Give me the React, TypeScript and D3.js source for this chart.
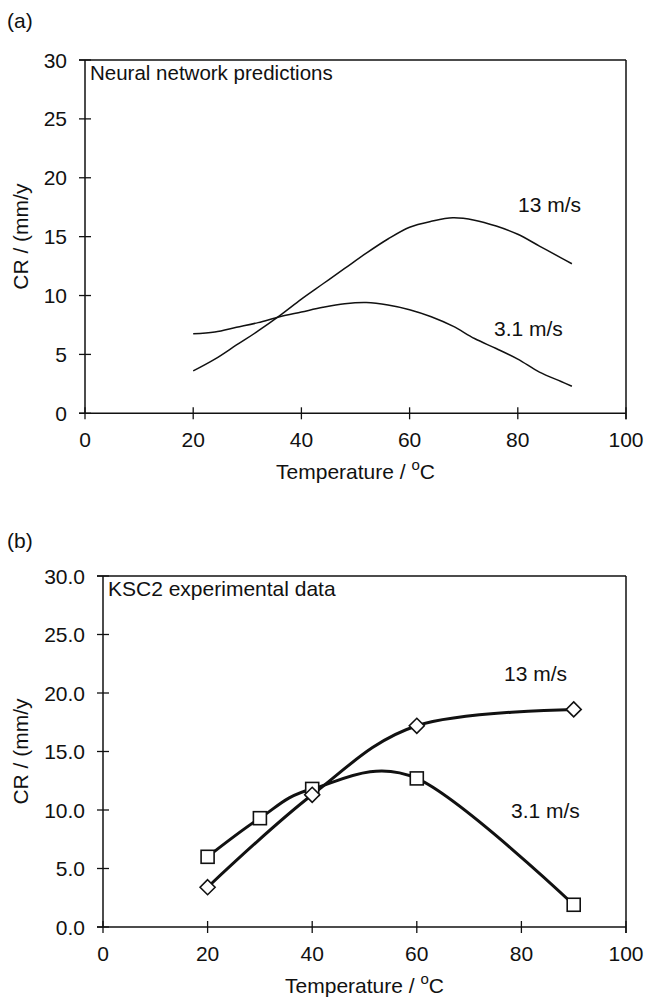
import React from "react";
import * as d3 from "d3";

// ---------- data ----------
const xTicks = [0, 20, 40, 60, 80, 100];
const yTicksA = [0, 5, 10, 15, 20, 25, 30];
const yTicksB = [0, 5, 10, 15, 20, 25, 30];

// (a) neural network predictions
const nnTemp = [20, 24, 28, 32, 36, 40, 44, 48, 52, 56, 60, 64, 68, 72, 76, 80, 84, 88, 90];
const nn13 = [3.6, 4.6, 5.8, 7.0, 8.3, 9.7, 11.0, 12.3, 13.6, 14.8, 15.8, 16.3, 16.6, 16.4, 15.9, 15.2, 14.2, 13.2, 12.7];
const nn31 = [6.75, 6.9, 7.3, 7.7, 8.2, 8.6, 9.0, 9.3, 9.4, 9.2, 8.8, 8.2, 7.4, 6.35, 5.5, 4.6, 3.5, 2.7, 2.3];

// (b) KSC2 experimental data
const expTemp13 = [20, 40, 60, 90];
const exp13 = [3.4, 11.3, 17.2, 18.6];
const expTemp31 = [20, 30, 40, 60, 90];
const exp31 = [6.0, 9.3, 11.8, 12.7, 1.9];

const FONT = "'Liberation Sans', Arial, Helvetica, sans-serif";
const INK = "#111";
const FS = 21;

type Pt = [number, number];

function Panel(props: {
  left: number; right: number; top: number; bottom: number;
  yTicks: number[]; yFmt: (v: number) => string;
  title: string; titleSize: number; tag: string; tagY: number;
  children: (x: d3.ScaleLinear<number, number>, y: d3.ScaleLinear<number, number>) => React.ReactNode;
}) {
  const { left, right, top, bottom, yTicks, yFmt, title, titleSize, tag, tagY } = props;
  const x = d3.scaleLinear().domain([0, 100]).range([left, right]);
  const y = d3.scaleLinear().domain([0, 30]).range([bottom, top]);
  const T = 6;
  return (
    <g fontFamily={FONT} fill={INK}>
      <text x={7} y={tagY} fontSize={FS} dominantBaseline="central">{tag}</text>
      {/* frame */}
      <line x1={left - T} x2={right} y1={top} y2={top} stroke={INK} strokeWidth={1.5} />
      <line x1={right} x2={right} y1={top} y2={bottom + T} stroke={INK} strokeWidth={1.5} />
      <line x1={left} x2={left} y1={top} y2={bottom} stroke={INK} strokeWidth={1.5} />
      <line x1={left - T} x2={right} y1={bottom} y2={bottom} stroke={INK} strokeWidth={1.5} />
      {yTicks.map((t) => (
        <g key={"y" + t}>
          <line x1={left - T} x2={left + T} y1={y(t)} y2={y(t)} stroke={INK} strokeWidth={1.3} />
          <text x={left - 18} y={y(t)} fontSize={FS} textAnchor="end" dominantBaseline="central">{yFmt(t)}</text>
        </g>
      ))}
      {xTicks.map((t) => (
        <g key={"x" + t}>
          <line x1={x(t)} x2={x(t)} y1={bottom - T} y2={bottom + T} stroke={INK} strokeWidth={1.3} />
          <text x={x(t)} y={bottom + 26} fontSize={FS} textAnchor="middle" dominantBaseline="central">{t}</text>
        </g>
      ))}
      <text x={(left + right) / 2} y={bottom + 58} fontSize={FS} textAnchor="middle" dominantBaseline="central">
        Temperature / <tspan fontSize={15} dy={-7}>o</tspan><tspan dy={7}>C</tspan>
      </text>
      <text transform={`translate(20,${(top + bottom) / 2}) rotate(-90)`} fontSize={FS} textAnchor="middle" dominantBaseline="central">
        CR / (mm/y
      </text>
      <text x={left + 5} y={top + 12} fontSize={titleSize} dominantBaseline="central">{title}</text>
      {props.children(x, y)}
    </g>
  );
}

export default function App() {
  return (
    <svg width={646} height={1002} style={{ position: "absolute", left: 0, top: 0, background: "#fff" }}>
      <rect width={646} height={1002} fill="#fff" />
      <Panel left={85} right={626} top={60} bottom={413.3} yTicks={yTicksA} yFmt={d3.format("d")}
        title="Neural network predictions" titleSize={20.5} tag="(a)" tagY={20}>
        {(x, y) => {
          const line = d3.line<Pt>().x((d) => x(d[0])).y((d) => y(d[1])).curve(d3.curveCatmullRom);
          const s13: Pt[] = nnTemp.map((t, i) => [t, nn13[i]]);
          const s31: Pt[] = nnTemp.map((t, i) => [t, nn31[i]]);
          return (
            <g>
              <path d={line(s13) || ""} fill="none" stroke={INK} strokeWidth={1.5} />
              <path d={line(s31) || ""} fill="none" stroke={INK} strokeWidth={1.5} />
              <text x={518} y={204} fontSize={FS} dominantBaseline="central">13 m/s</text>
              <text x={494} y={328} fontSize={FS} dominantBaseline="central">3.1 m/s</text>
            </g>
          );
        }}
      </Panel>
      <Panel left={103} right={626} top={576} bottom={927} yTicks={yTicksB} yFmt={d3.format(".1f")}
        title="KSC2 experimental data" titleSize={FS} tag="(b)" tagY={540}>
        {(x, y) => {
          const line = d3.line<Pt>().x((d) => x(d[0])).y((d) => y(d[1])).curve(d3.curveCatmullRom.alpha(0));
          const s13: Pt[] = expTemp13.map((t, i) => [t, exp13[i]]);
          const s31: Pt[] = expTemp31.map((t, i) => [t, exp31[i]]);
          const sq = 13;
          const dm = 7.5;
          return (
            <g>
              <path d={line(s31) || ""} fill="none" stroke={INK} strokeWidth={3} />
              <path d={line(s13) || ""} fill="none" stroke={INK} strokeWidth={3} />
              {s31.map((d, i) => (
                <rect key={"s" + i} x={x(d[0]) - sq / 2} y={y(d[1]) - sq / 2} width={sq} height={sq}
                  fill="#fff" stroke={INK} strokeWidth={1.6} />
              ))}
              {s13.map((d, i) => (
                <path key={"d" + i}
                  d={`M${x(d[0])},${y(d[1]) - dm}L${x(d[0]) + dm},${y(d[1])}L${x(d[0])},${y(d[1]) + dm}L${x(d[0]) - dm},${y(d[1])}Z`}
                  fill="#fff" stroke={INK} strokeWidth={1.6} />
              ))}
              <text x={504} y={673} fontSize={FS} dominantBaseline="central">13 m/s</text>
              <text x={511} y={810} fontSize={FS} dominantBaseline="central">3.1 m/s</text>
            </g>
          );
        }}
      </Panel>
    </svg>
  );
}
